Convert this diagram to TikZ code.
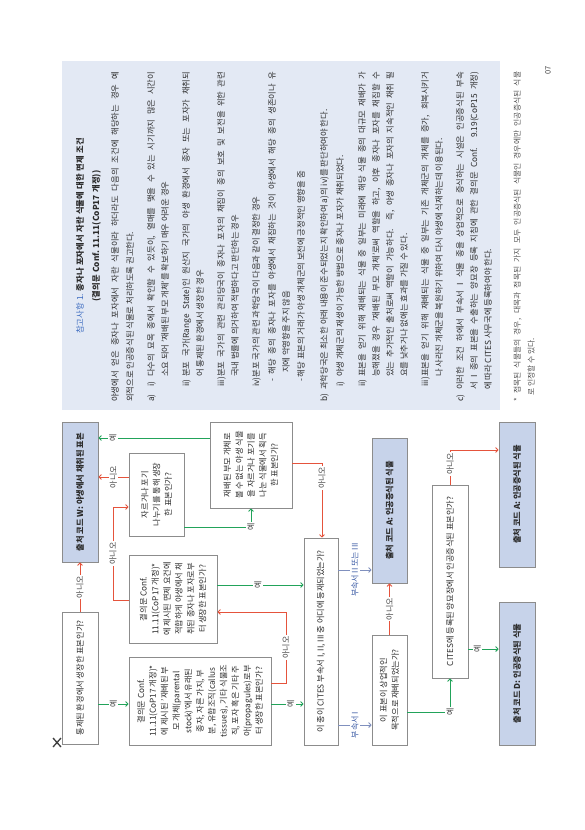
\documentclass[tikz,border=0pt]{standalone}
\usepackage{fontspec}
\setmainfont{Noto Sans CJK KR}
\usetikzlibrary{arrows.meta}
\definecolor{boxline}{HTML}{8C8C8C}
\definecolor{codefill}{HTML}{C7D3EA}
\definecolor{panelfill}{HTML}{E3E9F4}
\definecolor{yesgreen}{HTML}{22A35A}
\definecolor{nored}{HTML}{E5533C}
\definecolor{apline}{HTML}{8090BE}
\definecolor{aptext}{HTML}{3B5BA5}
\definecolor{headblue}{HTML}{3C6BC0}
\definecolor{bodytext}{HTML}{2B2B2B}
\definecolor{labtext}{HTML}{444444}
\definecolor{foottext}{HTML}{555555}
\newcommand\boxfont{\fontsize{8.2}{11.8}\selectfont}
\newcommand\notefont{\fontsize{8.3}{14}\selectfont}
\newcommand\footfont{\fontsize{7.8}{13}\selectfont}
\newcommand\hs{\hspace{2.6pt}}
% justified line: start X (landscape), centre Y, text
\newcommand\NJ[3]{\node[noteline] at ({#2+3},{830-#1}) {\makebox[\dimexpr758pt-#1pt\relax][s]{#3}};}
\newcommand\NN[3]{\node[noteline] at ({#2+3},{830-#1}) {#3};}
\begin{document}
\begin{tikzpicture}[x=1pt,y=-1pt,
  qbox/.style={draw=boxline, line width=0.9pt, fill=white, rotate=90, align=center, font=\boxfont, text=bodytext, inner sep=1pt},
  codebox/.style={qbox, fill=codefill, font=\boxfont\bfseries},
  conn/.style={line width=0.9pt, -{To[length=3.2pt,width=5.5pt]}},
  yes/.style={conn, draw=yesgreen},
  no/.style={conn, draw=nored},
  ap/.style={conn, draw=apline},
  lab/.style={fill=white, inner sep=1.2pt, rotate=90, font=\fontsize{8}{9}\selectfont, text=labtext},
  aplab/.style={lab, text=aptext},
  noteline/.style={rotate=90, anchor=base west, inner sep=0pt, font=\notefont, text=bodytext},
  footline/.style={noteline, font=\footfont, text=foottext},
]
\useasboundingbox (0,0) rectangle (584,830);
\fill[white] (0,0) rectangle (584,830);

% ---------- notes panel ----------
\fill[panelfill] (62,61) rectangle (500,410);
\node[noteline, anchor=base] (h1) at (83,236) {{\color{headblue}참고사항\hs 1.}\hs\textbf{종자나\hs 포자에서\hs 자란\hs 식물에\hs 대한\hs 면제\hs 조건}};
\node[noteline, anchor=base] (h2) at (99,236) {\textbf{(결의문\hs Conf.\hs 11.11(CoP17\hs 개정))}};
\NJ{428}{115}{야생에서 얻은 종자나 포자에서 자란 식물이라 하더라도 다음의 조건에 해당하는 경우 예}
\NN{428}{130}{외적으로 인공증식된 식물로 처리하도록 권고한다.}
\NN{428}{151}{a)}
\NN{443}{151}{i)}
\NJ{453}{151}{다수의 묘목 종에서 확인할 수 있듯이, 열매를 맺을 수 있는 시기까지 많은 시간이}
\NN{453}{165}{소요 되어 '재배된 부모 개체'를 확보하기 매우 어려운 경우}
\NN{443}{186}{ii)}
\NJ{453}{186}{분포 국가(Range State)인 원산지 국가의 야생 환경에서 종자 또는 포자가 채취되}
\NN{453}{200}{어 통제된 환경에서 생장한 경우}
\NN{443}{221}{iii)}
\NJ{453}{221}{분포 국가의 관련 관리당국이 종자나 포자의 채집이 종의 보호 및 보전을 위한 관련}
\NN{453}{235}{국내 법률에 의거하여 적법하다고 판단하는 경우}
\NN{443}{256}{iv)분포 국가의 관련 과학당국이 다음과 같이 결정한 경우}
\NJ{448}{272}{- 해당 종의 종자나 포자를 야생에서 채집하는 것이 야생에서 해당 종의 생존이나 유}
\NN{457}{286}{지에 악영향을 주지 않음}
\NN{448}{301}{- 해당 표본의 거래가 야생 개체군의 보전에 긍정적인 영향을 줌}
\NN{428}{324}{b)}
\NN{440}{324}{과학당국은 최소한 아래 내용이 준수되었는지 확인하여 a)의 iv)를 판단하여야 한다.}
\NN{443}{340}{i)}
\NN{453}{340}{야생 개체군의 재생이 가능한 방법으로 종자나 포자가 채취되었다.}
\NN{443}{362}{ii)}
\NJ{453}{362}{표본을 얻기 위해 재배되는 식물 중 일부는 미래에 해당 식물 종의 대규모 재배가 가}
\NJ{453}{376}{능해졌을 경우 '재배된 부모 개체'로써 역할을 하고, 이후 종자나 포자를 채집할 수}
\NJ{453}{390}{있는 추가적인 출처로써 역할이 가능하다. 즉, 야생 종자나 포자의 지속적인 채취 필}
\NN{453}{404}{요를 낮추거나 없애는 효과를 가질 수 있다.}
\NN{443}{425}{iii)}
\NJ{453}{425}{표본을 얻기 위해 재배되는 식물 중 일부는 기존 개체군의 개체를 증가, 회복시키거}
\NN{453}{439}{나 사라진 개체군을 복원하기 위하여 다시 야생에 식재하는데 이용된다.}
\NN{428}{460}{c)}
\NJ{440}{460}{이러한 조건 하에서 부속서 I 식물 종을 상업적으로 증식하는 시설은 인공증식된 부속}
\NJ{440}{474}{서 I 종의 표본을 수출하는 양묘장 등록 지침에 관한 결의문 Conf. 9.19(CoP15 개정)}
\NN{440}{488}{에 따라 CITES 사무국에 등록하여야 한다.}
\node[footline] (f1) at (520,402) {\makebox[330pt][s]{* 접목된 식물들의 경우, 대목과 접목된 가지 모두 인공증식된 식물인 경우에만 인공증식된 식물}};
\node[footline] (f2) at (534,396) {로 인정할 수 있다.};
\node[rotate=90, font=\fontsize{7.5}{9}\selectfont, text=labtext] (pg) at (548,70) {07};

% ---------- flowchart ----------
\draw[line width=1.3pt, draw=black!75] (53,738) -- (61,747) (53,747) -- (61,738);

\node[qbox, minimum width=132pt, minimum height=36pt] (q1) at (80,678) {통제된 환경에서 생장한 표본인가?};
\node[codebox, minimum width=140pt, minimum height=36pt] (w) at (80,492) {출처 코드 W: 야생에서 채취된 표본};
\node[qbox, minimum width=88pt, minimum height=142pt] (q2) at (200,701) {결의문 Conf.\\11.11(CoP17 개정)*\\에 제시된 '재배된 부\\모 개체(parental\\stock)'에서 유래된\\종자, 자른 가지, 부\\분, 유합조직(callus\\tissues), 기타 식물조\\직, 포자 혹은 기타 주\\아(propagules)로부\\터 생장한 표본인가?};
\node[qbox, minimum width=88pt, minimum height=88pt] (q3) at (173,599) {결의문 Conf.\\11.11(CoP17 개정)*\\에 제시된 면제 요건에\\적합하게 야생에서 채\\취된 종자나 포자로부\\터 생장한 표본인가?};
\node[qbox, minimum width=83pt, minimum height=55pt] (q4) at (156.5,494.5) {자르거나 포기\\나누기를 통해 생장\\한 표본인가?};
\node[qbox, minimum width=86pt, minimum height=82pt] (q5) at (251,465) {재배된 부모 개체로\\볼 수 없는 야생 식물\\을 자르거나 포기를\\나눈 식물에서 획득\\한 표본인가?};
\node[qbox, minimum width=207pt, minimum height=34pt] (q6) at (321,641.5) {이 종이 CITES 부속서 I, II, III 중 어디에 등재되었는가?};
\node[codebox, minimum width=145pt, minimum height=35pt] (a1) at (389.5,510.5) {출처 코드 A: 인공증식된 식물};
\node[qbox, minimum width=110pt, minimum height=35pt] (q7) at (389.5,690) {이 표본이 상업적인\\목적으로 재배되었는가?};
\node[qbox, minimum width=193pt, minimum height=36pt] (q8) at (450,581.5) {CITES에 등록된 양묘장에서 인공증식된 표본인가?};
\node[codebox, minimum width=143pt, minimum height=36pt] (d) at (517,673.5) {출처 코드 D: 인공증식된 식물};
\node[codebox, minimum width=145pt, minimum height=36pt] (a2) at (517,494.5) {출처 코드 A: 인공증식된 식물};

% connectors
\draw[no] (q1) -- node[lab]{아니오} (w);
\draw[yes] (q1.south |- 0,704) -- node[lab]{예} (q2.north |- 0,704);
\draw[yes] (q2.south |- 0,704) -- node[lab,pos=0.6]{예} (q6.north |- 0,704);
\draw[no] (q2.south |- 0,683) -- (286,683) -- node[lab]{아니오} (286,612) -- (q3.south |- 0,612);
\draw[yes] (q3.south |- 0,585) -- node[lab,pos=0.47]{예} (q6.north |- 0,585);
\draw[no] (q3.north |- 0,600) -- (113,600) -- node[lab]{아니오} (113,507) -- (q4.north |- 0,507);
\draw[no] (q4.north |- 0,477) -- node[lab]{아니오} (w.south |- 0,477);
\draw[yes] (q4.south |- 0,527) -| node[lab]{예} (q5.west);
\draw[yes] (q5.north |- 0,438) -- node[lab,pos=0.87]{예} (w.south |- 0,438);
\draw[no] (q5.south |- 0,463) -| node[lab,pos=0.6]{아니오} (q6.east -| 322,0);
\draw[ap] (q6.south |- 0,725) -- node[aplab]{부속서 I} (q7.north |- 0,725);
\draw[ap] (q6.south |- 0,570) -- node[aplab]{부속서 II 또는 III} (a1.north |- 0,570);
\draw[no] (q7) -- node[lab]{아니오} (a1);
\draw[yes] (q7.south |- 0,712) -| node[lab]{예} (q8.west);
\draw[yes] (q8.south |- 0,649) -- node[lab,pos=0.3]{예} (d.north |- 0,649);
\draw[no] (q8.east) |- node[lab,pos=0.3]{아니오} (a2.north |- 0,450);
\end{tikzpicture}
\end{document}
